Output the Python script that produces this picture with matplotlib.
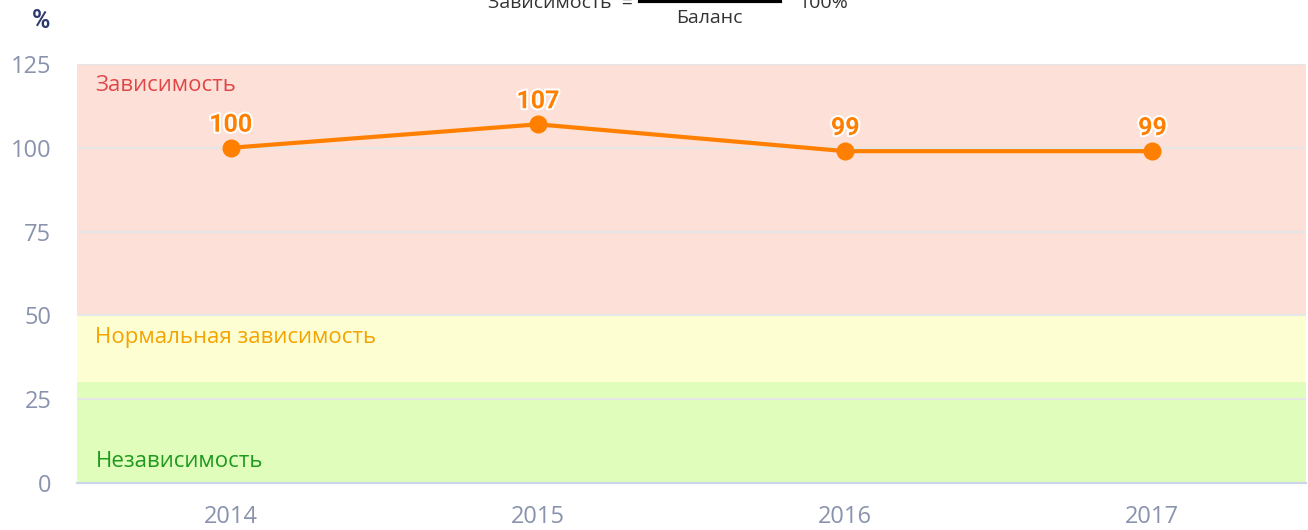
import matplotlib
matplotlib.use("Agg")
import matplotlib.pyplot as plt
from matplotlib.lines import Line2D
import matplotlib.patheffects as pe

years = ["2014", "2015", "2016", "2017"]
values = [100, 107, 99, 99]
yticks = [0, 25, 50, 75, 100, 125]
bands = [(0, 30, "#e1fdbb", "Независимость", "#1f9a1f", 6.5),
         (30, 50, "#fdfed2", "Нормальная зависимость", "#f5a300", 43.5),
         (50, 125, "#fde0d7", "Зависимость", "#e04848", 118.5)]

plt.rcParams['font.family'] = ['Open Sans', 'DejaVu Sans']

fig = plt.figure(figsize=(13.08, 5.30), dpi=100)
ax = fig.add_axes([77/1308, 1-483/530, (1306-77)/1308, (483-64)/530])

x = list(range(len(years)))
for lo, hi, col, lab, tcol, ty in bands:
    ax.axhspan(lo, hi, color=col, zorder=0.1, lw=0)
    ax.text(-0.44, ty, lab, color=tcol, fontsize=16, va='center', ha='left', zorder=3)

ax.set_axisbelow(True)
ax.grid(axis='y', color='#e6e6e6', lw=1.5)
ax.grid(axis='x', visible=False)

ax.plot(x, values, color='#ff8000', lw=3, marker='o', ms=12, zorder=4, clip_on=False)
for xi, v in zip(x, values):
    ax.annotate(str(v), (xi, v), xytext=(0, 8), textcoords='offset points',
                ha='center', va='bottom', fontsize=18, fontweight='bold', color='#ff8000',
                family=['Roboto', 'DejaVu Sans'],
                path_effects=[pe.withStroke(linewidth=3, foreground='white')], zorder=5)

ax.set_xlim(-0.5, 3.5)
ax.set_ylim(0, 125)
ax.set_xticks(x)
ax.set_xticklabels(years)
ax.set_yticks(yticks)
ax.tick_params(axis='both', length=0, labelsize=17, labelcolor='#8a93ad')
ax.tick_params(axis='y', pad=18.5)
ax.tick_params(axis='x', pad=16)
for s in ['top', 'right', 'left']:
    ax.spines[s].set_visible(False)
ax.spines['bottom'].set_color('#ccd6eb')
ax.spines['bottom'].set_linewidth(1.5)
ax.spines['bottom'].set_zorder(2)

fig.text(41/1308, 1-21/530, "%", fontsize=18, fontweight='bold', color='#2d3a6e',
         ha='center', va='center', family=['Roboto', 'DejaVu Sans'])

# formula (clipped at top, as in the reference)
fig.text(488/1308, 1-8/530, "Зависимость  =", fontsize=14, color='#333333', ha='left', va='baseline')
fig.add_artist(Line2D([640/1308, 780/1308], [1-0.5/530, 1-0.5/530], color='black', lw=3,
                      transform=fig.transFigure))
fig.text(709/1308, 1-18/530, "Баланс", fontsize=14, color='#333333', ha='center', va='center')
fig.text(798/1308, 1-8/530, "100%", fontsize=14, color='#333333', ha='left', va='baseline')

fig.savefig("out.png", dpi=100)
